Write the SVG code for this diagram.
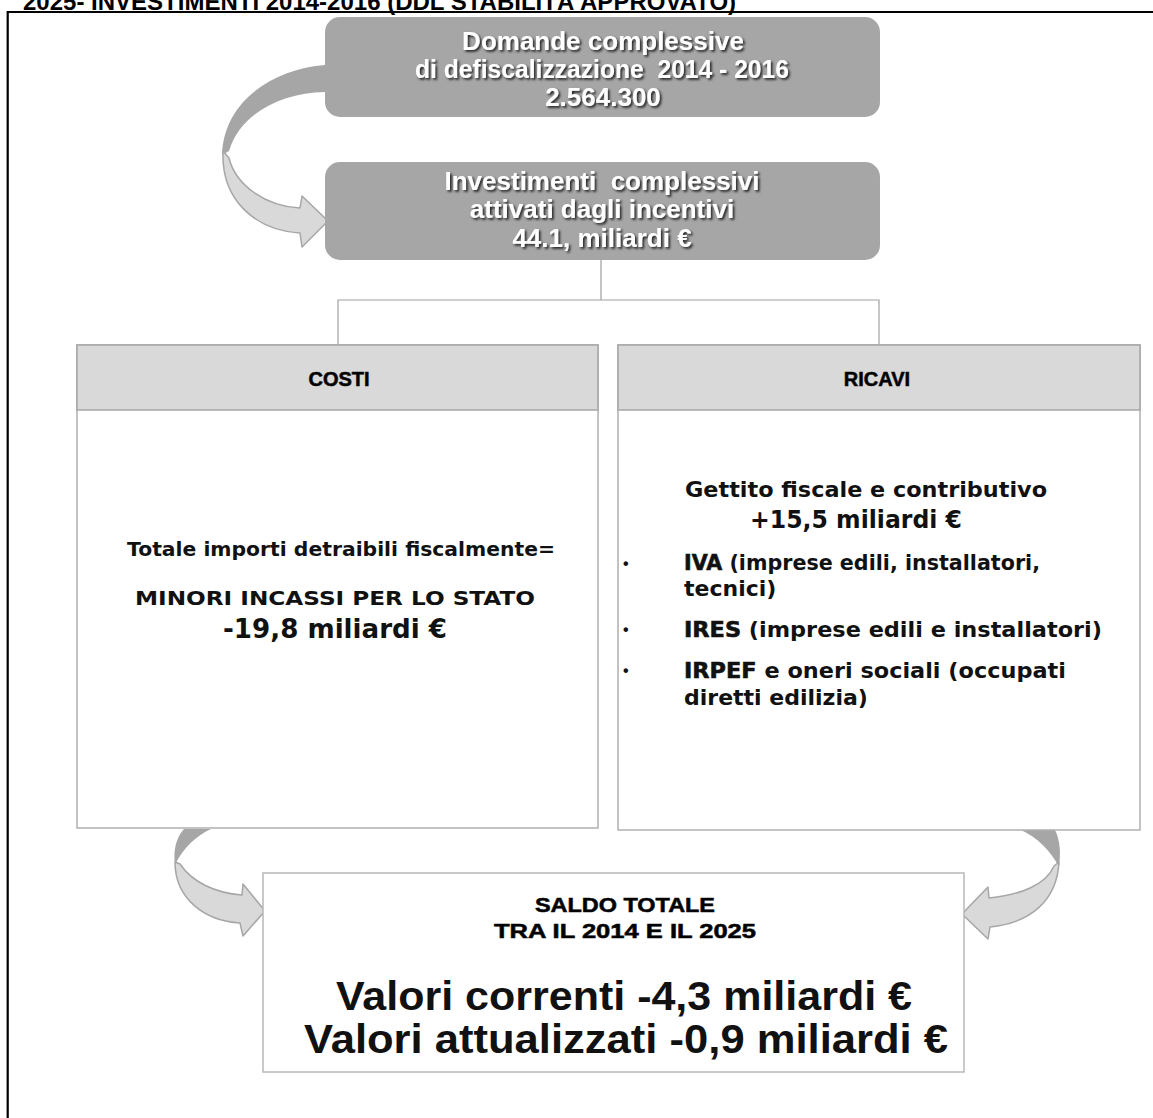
<svg xmlns="http://www.w3.org/2000/svg" width="1153" height="1118" viewBox="0 0 1153 1118">
<style>
.t{font-family:"Liberation Sans",Arial,sans-serif;font-weight:bold}
.d{font-family:"DejaVu Sans",Verdana,sans-serif;font-weight:bold;fill:#111}
.w{fill:#fff;font-size:26px;text-anchor:middle}
.gbox{fill:#a6a6a6}
.hdr{fill:#d9d9d9;stroke:#a6a6a6;stroke-width:1.5}
.body{fill:#fff;stroke:#b0b0b0;stroke-width:1.5}
.ln{fill:none;stroke:#a0a0a0;stroke-width:1.2}
.dk{fill:#a6a6a6}
.lt{fill:#d9d9d9;stroke:#a6a6a6;stroke-width:1.5;stroke-linejoin:round}
.hv{stroke:#111;stroke-width:0.6}
</style>
<defs>
<filter id="sh" x="-5%" y="-20%" width="110%" height="150%">
<feDropShadow dx="1.8" dy="1.8" stdDeviation="0.8" flood-color="#262626" flood-opacity="1"/>
</filter>
</defs>
<rect width="1153" height="1118" fill="#fff"/>
<text class="t" x="23" y="9.5" font-size="24" fill="#000">2025- INVESTIMENTI 2014-2016 (DDL STABILITÀ APPROVATO)</text>
<path d="M7.7,1118 V12 H1153" fill="none" stroke="#000" stroke-width="2.2"/>

<g id="connectors">
<path class="ln" d="M601,260 V300 M338,345 V300 H879 V345"/>
<path class="dk" d="M325,65 C274,69 224,100 222,155 L229,151 C240,114 280,93 325,92 Z"/>
<path class="lt" d="M223,151 C221,199 254,230 300,233 L302,247 L328,221 L302,196 L300,208 C266,206 236,186 229,158 Z"/>
<path class="dk" d="M211,829 L184,829 C176,838 173,850 175,865 C183,848 196,836 211,829 Z"/>
<path class="lt" d="M175,862 C175,899 205,921 240,923 L243,936 L265,911 L243,884 L242,895 C215,893 192,882 180,864 Z"/>
<path class="dk" d="M1021,830 L1055,830 C1060,840 1061,852 1059,867 C1050,850 1038,838 1021,830 Z"/>
<path class="lt" d="M1059,862 C1057,901 1030,923 990,927 L988,939 L962,914 L988,887 L989,898 C1020,895 1046,885 1054,866 Z"/>
</g>

<g id="domande">
<rect class="gbox" x="325" y="17" width="555" height="100" rx="15"/>
<g filter="url(#sh)">
<text class="t w" x="603" y="50">Domande complessive</text>
<text class="t w" x="602" y="78" xml:space="preserve" textLength="374" lengthAdjust="spacingAndGlyphs">di defiscalizzazione  2014 - 2016</text>
<text class="t w" x="603" y="106">2.564.300</text>
</g>
</g>

<g id="investimenti">
<rect class="gbox" x="325" y="162" width="555" height="98" rx="15"/>
<g filter="url(#sh)">
<text class="t w" x="602" y="190" xml:space="preserve">Investimenti  complessivi</text>
<text class="t w" x="602" y="218">attivati dagli incentivi</text>
<text class="t w" x="602" y="247">44.1, miliardi €</text>
</g>
</g>

<g id="costi">
<rect class="body" x="77" y="345" width="521" height="483"/>
<rect class="hdr" x="77" y="345" width="521" height="65"/>
<text class="t hv" x="339" y="386" font-size="20" text-anchor="middle">COSTI</text>
<text class="d" x="341" y="556" font-size="20" text-anchor="middle" textLength="428" lengthAdjust="spacingAndGlyphs">Totale importi detraibili fiscalmente=</text>
<text class="d" x="335" y="605" font-size="20" text-anchor="middle" textLength="400" lengthAdjust="spacingAndGlyphs">MINORI INCASSI PER LO STATO</text>
<text class="d" x="335" y="638" font-size="26" text-anchor="middle" textLength="224" lengthAdjust="spacingAndGlyphs">-19,8 miliardi €</text>
</g>

<g id="ricavi">
<rect class="body" x="618" y="345" width="522" height="485"/>
<rect class="hdr" x="618" y="345" width="522" height="65"/>
<text class="t hv" x="877" y="386" font-size="20" text-anchor="middle">RICAVI</text>
<text class="d" x="866" y="497" font-size="22" text-anchor="middle" textLength="362" lengthAdjust="spacingAndGlyphs">Gettito fiscale e contributivo</text>
<text class="d" x="856" y="528" font-size="25" text-anchor="middle" textLength="212" lengthAdjust="spacingAndGlyphs">+15,5 miliardi €</text>
<g class="t" font-size="16" fill="#111">
<text x="623" y="569">•</text>
<text x="623" y="635">•</text>
<text x="623" y="676">•</text>
</g>
<text class="d" x="684" y="570" font-size="22" textLength="356" lengthAdjust="spacingAndGlyphs"><tspan class="hv">IVA</tspan> (imprese edili, installatori,</text>
<text class="d" x="684" y="596" font-size="22">tecnici)</text>
<text class="d" x="684" y="637" font-size="22" textLength="418" lengthAdjust="spacingAndGlyphs"><tspan class="hv">IRES</tspan> (imprese edili e installatori)</text>
<text class="d" x="684" y="678" font-size="22" textLength="382" lengthAdjust="spacingAndGlyphs"><tspan class="hv">IRPEF</tspan> e oneri sociali (occupati</text>
<text class="d" x="684" y="705" font-size="22">diretti edilizia)</text>
</g>

<g id="saldo">
<rect x="263" y="873" width="701" height="199" fill="#fff" stroke="#b8b8b8" stroke-width="1.5"/>
<text class="t hv" x="625" y="912" font-size="21" text-anchor="middle" textLength="180" lengthAdjust="spacingAndGlyphs">SALDO TOTALE</text>
<text class="t hv" x="625" y="938" font-size="21" text-anchor="middle" textLength="262" lengthAdjust="spacingAndGlyphs">TRA IL 2014 E IL 2025</text>
<text class="t" x="624" y="1010" font-size="40" text-anchor="middle" fill="#111" textLength="576" lengthAdjust="spacingAndGlyphs">Valori correnti -4,3 miliardi €</text>
<text class="t" x="626" y="1053" font-size="40" text-anchor="middle" fill="#111" textLength="644" lengthAdjust="spacingAndGlyphs">Valori attualizzati -0,9 miliardi €</text>
</g>
</svg>
